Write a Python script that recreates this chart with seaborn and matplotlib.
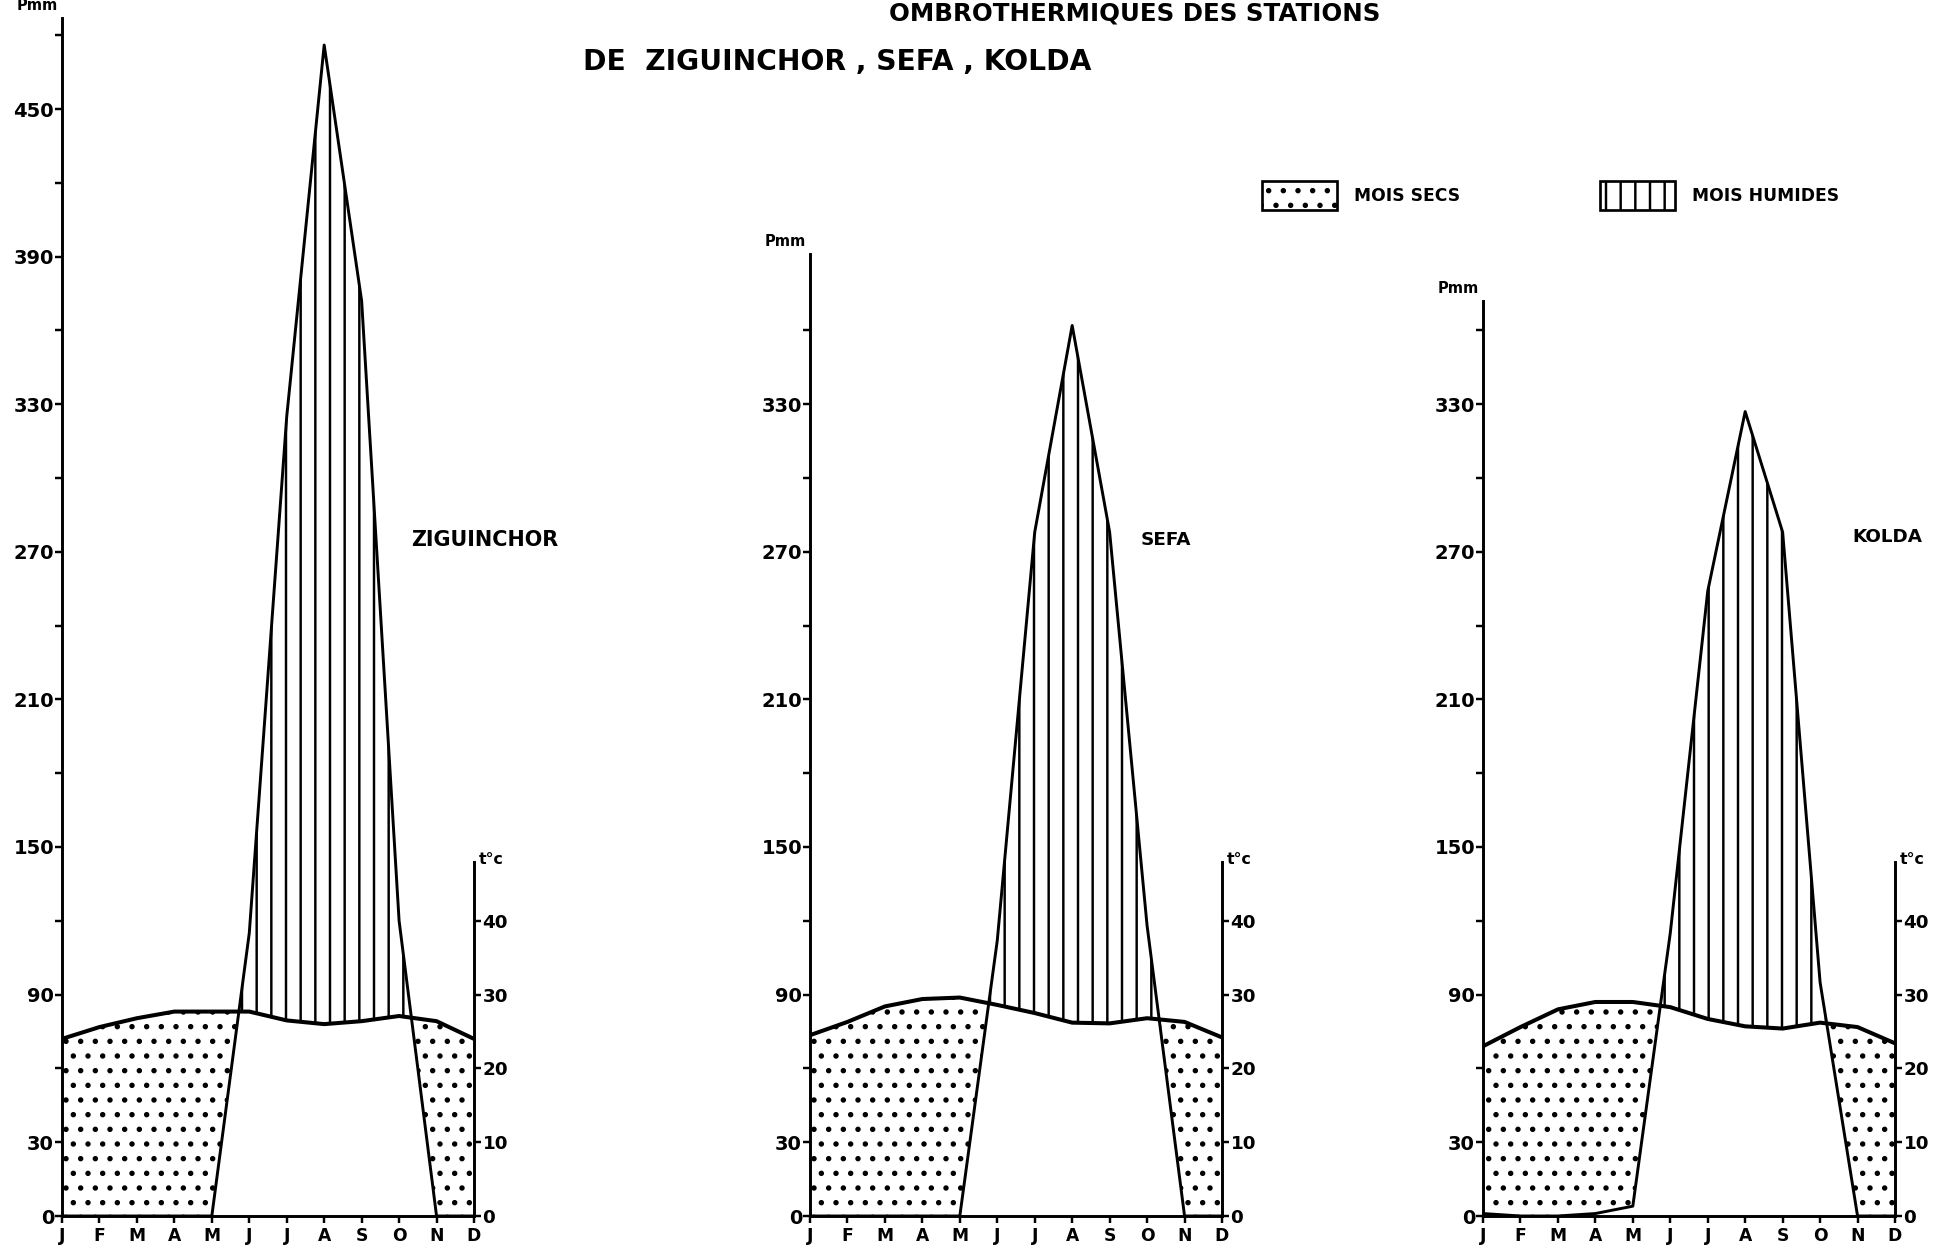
import numpy as np
import pandas as pd
import matplotlib
matplotlib.use("Agg")
import matplotlib.pyplot as plt
from matplotlib.patches import Patch
import seaborn as sns

# ---- data -------------------------------------------------------------
months = ["J", "F", "M", "A", "M", "J", "J", "A", "S", "O", "N", "D"]
stations = ["ZIGUINCHOR", "SEFA", "KOLDA"]

# monthly rainfall (mm)
precip_ziguinchor = [0, 0, 0, 0, 0, 115, 325, 476, 372, 120, 0, 0]
precip_sefa = [0, 0, 0, 0, 0, 112, 278, 362, 278, 118, 0, 0]
precip_kolda = [1, 0, 0, 1, 4, 115, 254, 327, 278, 95, 0, 0]

# monthly mean temperature (deg C)
temp_ziguinchor = [24.0, 25.6, 26.8, 27.7, 27.7, 27.7, 26.5, 26.0, 26.4, 27.1, 26.4, 24.0]
temp_sefa = [24.5, 26.3, 28.4, 29.4, 29.6, 28.6, 27.5, 26.2, 26.1, 26.8, 26.3, 24.2]
temp_kolda = [23.0, 25.6, 28.0, 29.0, 29.0, 28.3, 26.7, 25.7, 25.4, 26.2, 25.6, 23.4]

# height of each rainfall axis (mm) and of the temperature axes (deg C)
p_axis_top = [487, 391, 372]
t_axis_top = 48
t_ticks = [0, 10, 20, 30, 40]

title_top = "OMBROTHERMIQUES DES STATIONS"
title_main = "DE  ZIGUINCHOR , SEFA , KOLDA"
legend_labels = ["MOIS SECS", "MOIS HUMIDES"]

# ---- style ------------------------------------------------------------
DPI = 88
W, H = 1953, 1248
sns.set_theme(style="ticks")
plt.rcParams["font.family"] = ["DejaVu Sans"]
plt.rcParams["font.weight"] = "bold"
plt.rcParams["hatch.linewidth"] = 2.0
plt.rcParams["hatch.color"] = "black"
plt.rcParams["axes.linewidth"] = 2.4
plt.rcParams["axes.edgecolor"] = "black"
plt.rcParams["text.color"] = "black"
plt.rcParams["xtick.color"] = "black"
plt.rcParams["ytick.color"] = "black"

fig = plt.figure(figsize=(W / DPI, H / DPI), dpi=DPI)
fig.patch.set_facecolor("white")

Y_MAX = 495  # common rainfall scale (mm) for all three panels
x0_px = [62, 810, 1483]
panel_w_px = 412
base_px = 1216
mm_px = 2.46

series = [
    (precip_ziguinchor, temp_ziguinchor),
    (precip_sefa, temp_sefa),
    (precip_kolda, temp_kolda),
]
label_pos = [(11.3, 275, 17), (9.5, 275, 15), (10.8, 276, 15)]

for i, (precip, temp) in enumerate(series):
    left = x0_px[i] / W
    bottom = (H - base_px) / H
    height = Y_MAX * mm_px / H
    ax = fig.add_axes([left, bottom, panel_w_px / W, height])
    ax.set_facecolor("none")

    df = pd.DataFrame({
        "mois": np.arange(12),
        "P": precip,
        "T": temp,
    })
    df["T3"] = 3 * df["T"]

    # dry months: rainfall below the temperature curve (P < 3T)
    ax.fill_between(df["mois"], df["P"], df["T3"], where=df["P"] <= df["T3"],
                    interpolate=True, facecolor="none", edgecolor="black",
                    hatch=".", linewidth=0)
    # humid months: rainfall above the temperature curve
    ax.fill_between(df["mois"], df["T3"], df["P"], where=df["P"] >= df["T3"],
                    interpolate=True, facecolor="none", edgecolor="black",
                    hatch="|", linewidth=0)

    sns.lineplot(data=df, x="mois", y="P", ax=ax, color="black", lw=2.4)

    ax.set_xlim(0, 11)
    ax.set_ylim(0, Y_MAX)
    ax.set_xlabel("")
    ax.set_ylabel("")

    top = p_axis_top[i]
    yt = list(range(0, top - 4, 30))
    ax.set_yticks(yt)
    ax.set_yticklabels([str(v) if (v == 0 or (v - 30) % 60 == 0) else "" for v in yt],
                       fontsize=16)
    ax.set_xticks(range(12))
    ax.set_xticklabels(months, fontsize=14)
    ax.tick_params(axis="y", length=6, width=2, pad=0.5, direction="out")
    ax.tick_params(axis="x", length=6, width=2, pad=3, direction="out")

    for s in ["top", "right"]:
        ax.spines[s].set_visible(False)
    ax.spines["left"].set_bounds(0, top)
    ax.spines["bottom"].set_bounds(0, 11)

    # temperature axis on the right, 1 deg C = 3 mm
    ax2 = ax.twinx()
    ax2.set_ylim(0, Y_MAX / 3)
    sns.lineplot(data=df, x="mois", y="T", ax=ax2, color="black", lw=3.3)
    ax2.set_xlim(0, 11)
    ax2.set_ylabel("")
    ax2.set_yticks(t_ticks)
    ax2.set_yticklabels([str(v) for v in t_ticks], fontsize=15)
    ax2.tick_params(axis="y", length=6, width=2, pad=1, direction="out")
    for s in ["top", "left", "bottom"]:
        ax2.spines[s].set_visible(False)
    ax2.spines["right"].set_bounds(0, t_axis_top)
    ax2.spines["right"].set_linewidth(2.4)

    # axis captions
    ax.annotate("Pmm", xy=(0, top), xycoords=("axes fraction", "data"),
                xytext=(-3, 4), textcoords="offset points",
                ha="right", va="bottom", fontsize=12)
    ax2.annotate("t°c", xy=(1, t_axis_top), xycoords=("axes fraction", "data"),
                 xytext=(4, 2), textcoords="offset points",
                 ha="left", va="center", fontsize=13)

    lx, ly, fs = label_pos[i]
    ax.text(lx, ly, stations[i], ha="center", va="center", fontsize=fs)

# titles
fig.text(1380 / W, 1 - 1 / H, title_top, ha="right", va="top", fontsize=20)
fig.text(583 / W, 1 - 62 / H, title_main, ha="left", va="center", fontsize=23)

# legend boxes
dry_patch = Patch(facecolor="white", edgecolor="black", hatch=".", linewidth=2.2)
wet_patch = Patch(facecolor="white", edgecolor="black", hatch="|", linewidth=2.2)
fig.legend(handles=[dry_patch], labels=[legend_labels[0]], loc="upper left",
           bbox_to_anchor=(1262 / W, 1 - 181 / H), frameon=False,
           fontsize=14, handlelength=4.4, handleheight=2.2,
           handletextpad=1.0, borderpad=0, borderaxespad=0)
fig.legend(handles=[wet_patch], labels=[legend_labels[1]], loc="upper left",
           bbox_to_anchor=(1600 / W, 1 - 181 / H), frameon=False,
           fontsize=14, handlelength=4.4, handleheight=2.2,
           handletextpad=1.0, borderpad=0, borderaxespad=0)

fig.savefig("out.png", dpi=DPI, facecolor="white")
